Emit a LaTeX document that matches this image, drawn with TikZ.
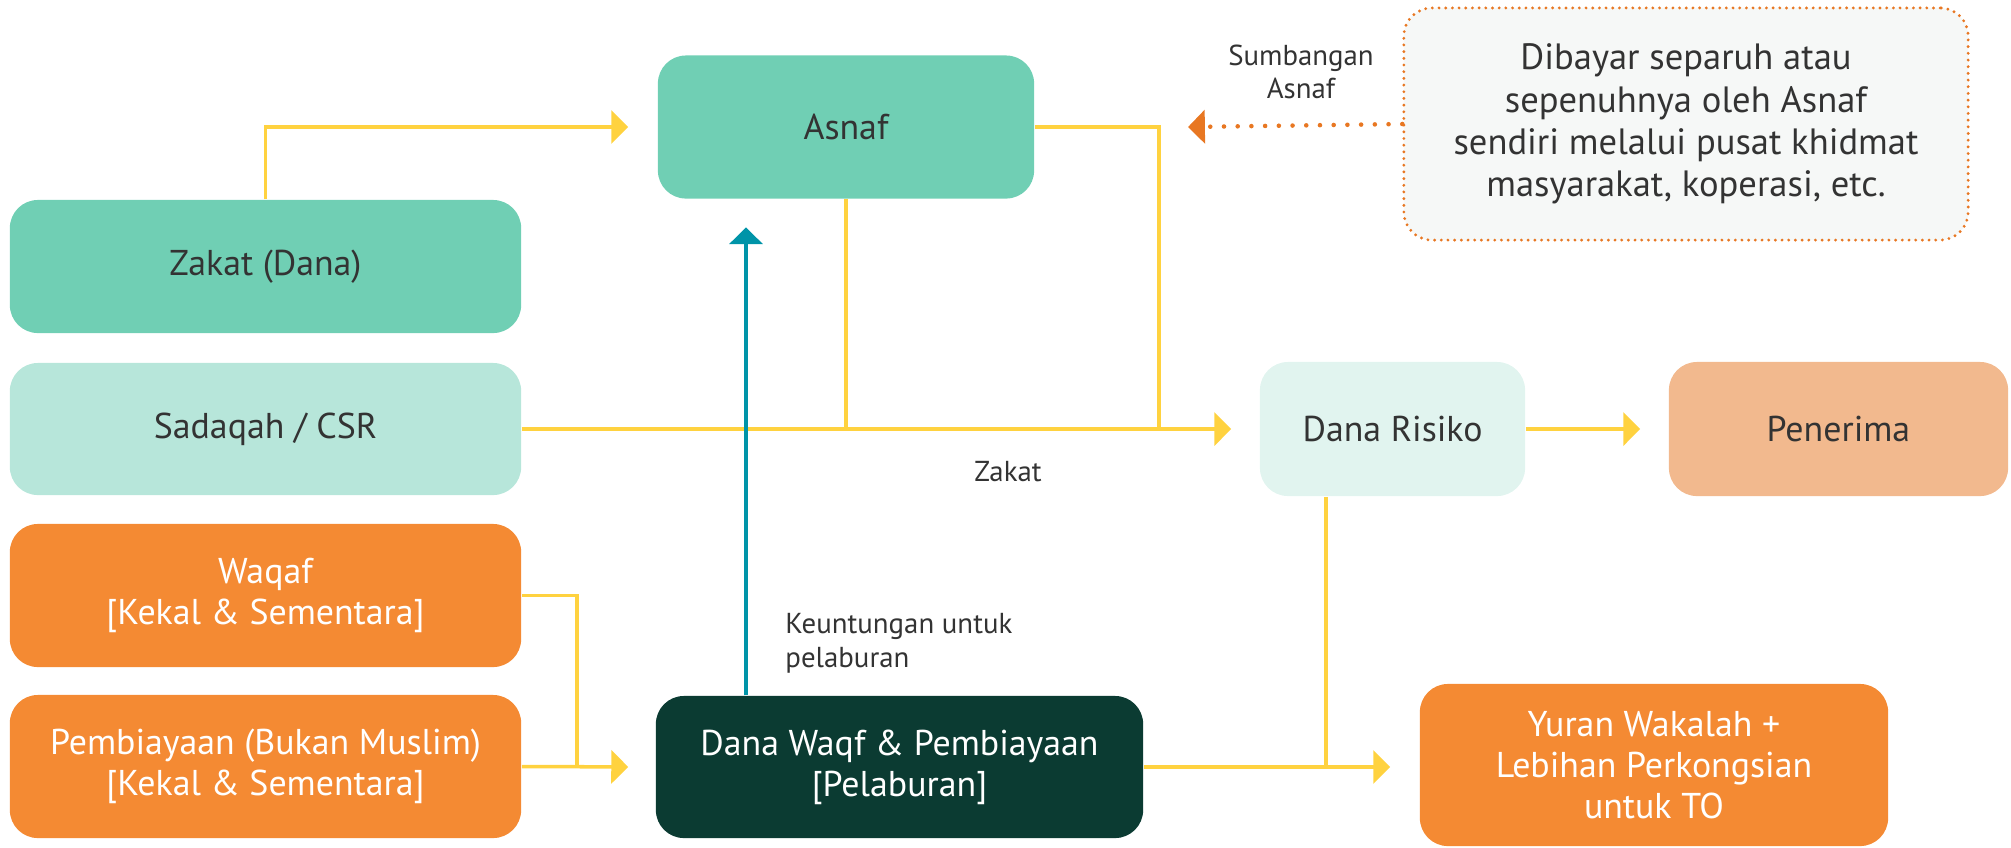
\documentclass[tikz,border=0pt]{standalone}
\usepackage{fontspec}
\setmainfont{PT Sans}
\usetikzlibrary{arrows.meta}
\definecolor{hijau}{HTML}{70CFB4}
\definecolor{hijaumuda}{HTML}{B7E6DA}
\definecolor{hijaupucat}{HTML}{E1F4EF}
\definecolor{oren}{HTML}{F48A33}
\definecolor{orenmuda}{HTML}{F2B98E}
\definecolor{orengelap}{HTML}{E87722}
\definecolor{hijaugelap}{HTML}{0B3B32}
\definecolor{kuning}{HTML}{FFD23F}
\definecolor{biru}{HTML}{0094A8}
\definecolor{teks}{HTML}{333333}
\definecolor{nota}{HTML}{F6F8F7}
\begin{document}
\begin{tikzpicture}[x=0.01cm, y=-0.01cm, >={Triangle[length=4.8pt,width=9.4pt]},
    kotak/.style={rounded corners=0.28cm, align=center, inner sep=0pt,
        font=\fontsize{10.2}{11.6}\selectfont, text=teks},
    kline/.style={draw=kuning, line width=1pt},
    tline/.style={draw=biru, line width=1pt},
    label/.style={align=center, font=\fontsize{8.2}{9.6}\selectfont, text=teks}]
\useasboundingbox (0,0) rectangle (2011,847);
% kotak sumber
\node[kotak, fill=hijau, minimum width=5.11cm, minimum height=1.33cm] (zakat) at (265.5,266.5) {Zakat (Dana)};
\node[kotak, fill=hijaumuda, minimum width=5.11cm, minimum height=1.32cm] (sadaqah) at (265.5,429) {Sadaqah / CSR};
\node[kotak, fill=oren, text=white, minimum width=5.11cm, minimum height=1.43cm] (waqaf) at (265.5,595.5) {Waqaf\\{}[Kekal \& Sementara]};
\node[kotak, fill=oren, text=white, minimum width=5.11cm, minimum height=1.43cm] (pemb) at (265.5,766.5) {Pembiayaan (Bukan Muslim)\\{}[Kekal \& Sementara]};
% kotak tengah
\node[kotak, fill=hijau, minimum width=3.76cm, minimum height=1.43cm] (asnaf) at (846,127) {Asnaf};
\node[kotak, fill=hijaugelap, text=white, minimum width=4.87cm, minimum height=1.42cm] (danawaqf) at (899.5,767) {Dana Waqf \& Pembiayaan\\{}[Pelaburan]};
\node[kotak, fill=hijaupucat, minimum width=2.65cm, minimum height=1.34cm] (risiko) at (1392.5,429) {Dana Risiko};
\node[kotak, fill=orenmuda, minimum width=3.39cm, minimum height=1.34cm] (penerima) at (1838.5,429) {Penerima};
\node[kotak, fill=oren, text=white, minimum width=4.68cm, minimum height=1.62cm] (yuran) at (1654,765) {Yuran Wakalah +\\Lebihan Perkongsian\\untuk TO};
\node[kotak, fill=nota, draw=orengelap, line width=0.9pt, dash pattern=on 0pt off 1.9pt, line cap=round,
    minimum width=5.64cm, minimum height=2.32cm, font=\fontsize{10.4}{12}\selectfont] (nota) at (1686,124)
    {Dibayar separuh atau\\sepenuhnya oleh Asnaf\\sendiri melalui pusat khidmat\\masyarakat, koperasi, etc.};
% label
\node[label] (lzakat) at (1008,472) {Zakat};
\node[label] (lsumb) at (1301,72) {Sumbangan\\Asnaf};
\node[label, align=left, anchor=west] (luntung) at (773,643) {Keuntungan untuk\\pelaburan};
% titik simpang
\coordinate (jr) at (1159,429);
\coordinate (jw) at (577,767);
\coordinate (jy) at (1326,767);
\coordinate (tq) at (746,0);
\coordinate (js) at (1188,127);
% penyambung
\draw[kline, ->, shorten >=0.29cm] (zakat.north) |- (asnaf.west);
\draw[kline] (asnaf.east) -| (jr);
\draw[kline] (asnaf.south) -- (asnaf.south |- sadaqah.east);
\draw[kline, ->, shorten >=0.28cm] (sadaqah.east) -- (risiko.west);
\draw[kline, ->, shorten >=0.28cm] (risiko.east) -- (penerima.west);
\draw[kline] (waqaf.east) -| (jw);
\draw[kline, ->, shorten >=0.27cm] (pemb.east) -- (danawaqf.west);
\draw[kline, ->, shorten >=0.29cm] (danawaqf.east) -- (danawaqf.east -| yuran.west);
\draw[kline] (risiko.south -| jy) -- (jy);
\draw[tline, ->, shorten >=0.28cm] (tq |- danawaqf.north) -- (tq |- asnaf.south);
\draw[draw=orengelap, line width=1.3pt, line cap=round, dash pattern=on 0pt off 3.9pt,
    -{Triangle[length=4.8pt,width=9.4pt,fill=orengelap,line cap=butt,sep=0pt]}] (nota.west) -- (js);
\end{tikzpicture}
\end{document}
